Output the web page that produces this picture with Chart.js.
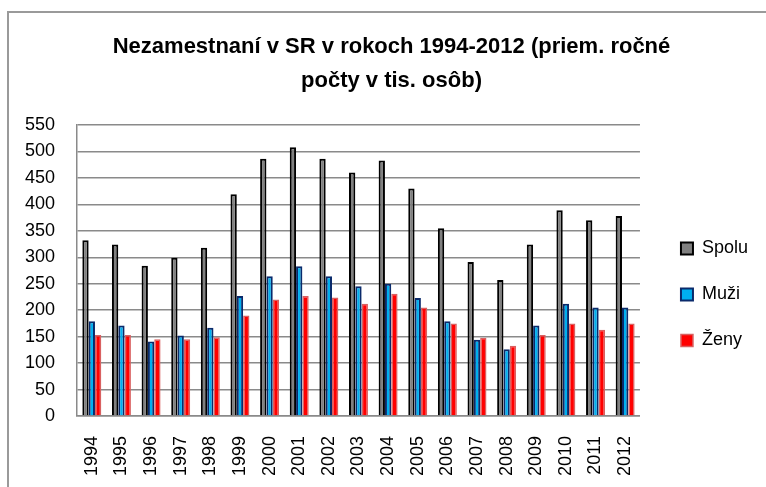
<!DOCTYPE html>
<html><head><meta charset="utf-8">
<script src="https://cdn.jsdelivr.net/npm/chart.js@4.4.1/dist/chart.umd.min.js"></script>
<style>
html,body{margin:0;padding:0;width:766px;height:487px;overflow:hidden;background:#fff;}
#frame{position:absolute;left:7px;top:11px;width:900px;height:600px;border:2px solid #9a9a9a;box-sizing:border-box;}
#c{position:absolute;left:0;top:0;}
</style></head><body>
<div id="frame"></div>
<canvas id="c" width="766" height="487"></canvas>
<script>
const years = ['1994','1995','1996','1997','1998','1999','2000','2001','2002','2003','2004','2005','2006','2007','2008','2009','2010','2011','2012'];
const spolu = [332, 324, 284, 299, 318, 419, 486, 508, 486, 460, 483, 430, 355, 291, 257, 324, 389, 370, 378];
const muzi  = [179, 171, 141, 152, 167, 227, 264, 283, 264, 245, 250, 223, 179, 144, 126, 171, 212, 205, 205];
const zeny  = [153, 153, 145, 145, 149, 190, 220, 227, 224, 212, 231, 205, 175, 148, 133, 153, 175, 163, 175];
const titleLines = ['Nezamestnaní v SR v rokoch 1994-2012 (priem. ročné', 'počty v tis. osôb)'];
const seriesNames = ['Spolu', 'Muži', 'Ženy'];

Chart.defaults.font.family = "'Liberation Sans', Arial, sans-serif";
Chart.defaults.color = '#000';

new Chart(document.getElementById('c'), {
  type: 'bar',
  data: {
    labels: years,
    datasets: [
      {label: seriesNames[0], data: spolu, backgroundColor: '#808080', borderColor: '#000000', borderWidth: 2},
      {label: seriesNames[1], data: muzi, backgroundColor: '#00b0f0', borderColor: '#0a2a6b', borderWidth: 2},
      {label: seriesNames[2], data: zeny, backgroundColor: '#ff0000', borderColor: '#d96060', borderWidth: 1.5}
    ]
  },
  options: {
    responsive: false,
    animation: false,
    devicePixelRatio: 1,
    layout: {padding: {left: 25, right: 8, top: 0, bottom: 10}},
    datasets: {bar: {categoryPercentage: 0.64, barPercentage: 1}},
    plugins: {
      title: {display: true, text: titleLines, color: '#000',
        font: {size: 22, weight: 'bold', lineHeight: 1.545}, padding: {top: 30, bottom: 27}},
      legend: {position: 'right', fullSize: false, align: 'center',
        title: {display: true, text: ' ', padding: {top: 30, bottom: 0}, font: {size: 18, lineHeight: 1}},
        labels: {boxWidth: 12, boxHeight: 12, padding: 28, font: {size: 18}, color: '#000'}},
      tooltip: {enabled: false}
    },
    scales: {
      x: {
        grid: {display: false, drawTicks: false},
        border: {display: true, color: '#8a8a8a', width: 1.5},
        ticks: {minRotation: 90, maxRotation: 90, autoSkip: false, padding: 20, font: {size: 18}, color: '#000'},
        afterFit: (s) => { s.height = 61; }
      },
      y: {
        min: 0, max: 550,
        ticks: {stepSize: 50, padding: 22, font: {size: 18}, color: '#000'},
        grid: {color: '#8a8a8a', lineWidth: 1.5, drawTicks: false},
        border: {color: '#8a8a8a', width: 1.5},
        afterFit: (s) => { s.width = 52; }
      },
      yRight: {
        type: 'linear', axis: 'y', position: 'right', display: true,
        grid: {display: false, drawTicks: false}, border: {display: false},
        ticks: {display: false},
        afterFit: (s) => { s.width = 13; }
      }
    }
  }
});
</script>
</body></html>
